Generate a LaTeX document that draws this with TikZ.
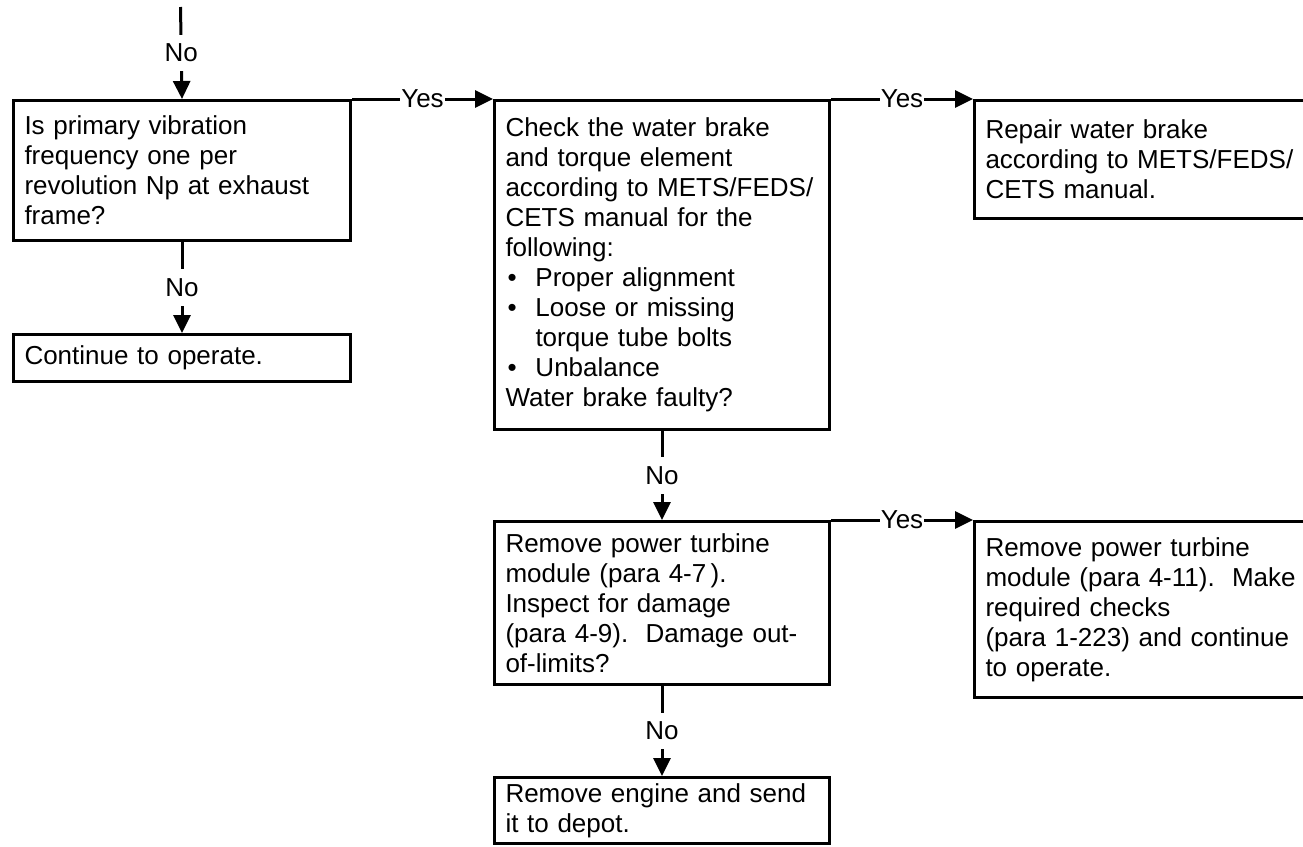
\documentclass[tikz,border=0pt]{standalone}
\usepackage{fontspec}
\setmainfont{Liberation Sans}
\usetikzlibrary{arrows.meta}

\begin{document}
\begin{tikzpicture}[x=1pt, y=-1pt, line width=3pt,
  every node/.style={font=\fontsize{26}{30}\selectfont},
  chkbox/.style={draw, rectangle, anchor=north west, align=left, inner xsep=11pt, inner ysep=0pt},
  ans/.style={fill=white, inner xsep=1pt, inner ysep=9pt},
  flow/.style={-{Triangle[length=18pt, width=17pt]}}]
  \useasboundingbox (0,0) rectangle (1303,846);
  \clip (0,0) rectangle (1303,846);

  \node[chkbox, text width=315pt, minimum height=140pt] (q1) at (12,99)
    {Is primary vibration\\frequency one per\\revolution Np at exhaust\\frame?};
  \node[chkbox, text width=315pt, minimum height=47pt] (cont) at (12,333)
    {Continue to operate.};
  \node[chkbox, text width=313pt, minimum height=329pt] (chk) at (493,99)
    {Check the water brake\\and torque element\\according to METS/FEDS/\\CETS manual for the\\following:\\
     \makebox[30pt][l]{\hspace*{2pt}\textbullet}Proper alignment\\
     \makebox[30pt][l]{\hspace*{2pt}\textbullet}Loose or missing\\
     \hspace*{30pt}torque tube bolts\\
     \makebox[30pt][l]{\hspace*{2pt}\textbullet}Unbalance\\
     Water brake faulty?};
  \node[chkbox, text width=340pt, minimum height=118pt] (fix) at (973,99)
    {Repair water brake\\according to METS/FEDS/\\CETS manual.};
  \node[chkbox, text width=313pt, minimum height=163pt] (pt) at (493,520)
    {Remove power turbine\\module (para 4-7\,).\\Inspect for damage\\(para 4-9).\ \ Damage out-\\of-limits?};
  \node[chkbox, text width=340pt, minimum height=176pt] (ptok) at (973,520)
    {Remove power turbine\\module (para 4-11).\ \ Make\\required checks\\(para 1-223) and continue\\to operate.};
  \node[chkbox, text width=313pt, minimum height=66pt] (eng) at (493,776)
    {Remove engine and send\\it to depot.};

  \coordinate (top) at (180.5,7);
  \draw[flow] (top) -- node[ans] {No} (q1.north);
  \draw[flow] (q1.south) -- node[ans] {No} (cont.north);
  \draw[flow] (q1.north east) -- node[ans] {Yes} (chk.north west);
  \draw[flow] (chk.north east) -- node[ans] {Yes} (fix.north west);
  \draw[flow] (chk.south) -- node[ans] {No} (pt.north);
  \draw[flow] (pt.north east) -- node[ans] {Yes} (ptok.north west);
  \draw[flow] (pt.south) -- node[ans] {No} (eng.north);
\end{tikzpicture}
\end{document}
